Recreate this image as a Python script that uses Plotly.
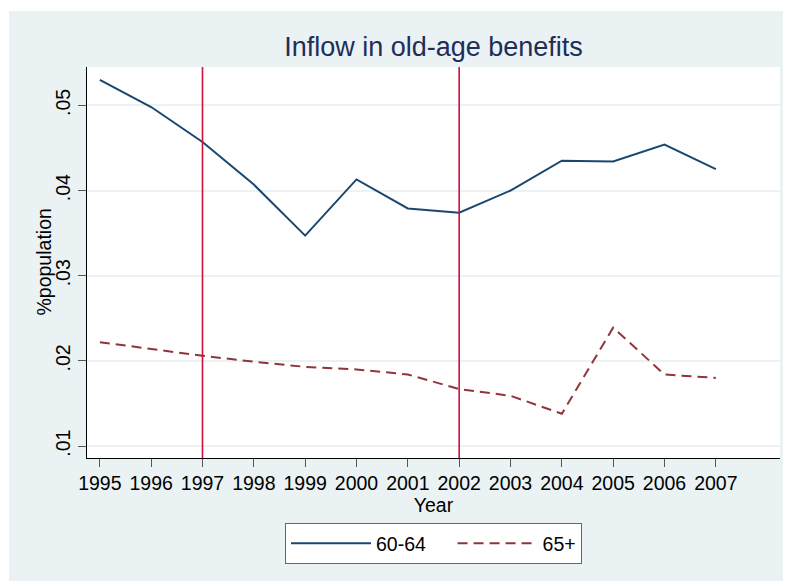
import plotly.graph_objects as go

years = [1995, 1996, 1997, 1998, 1999, 2000, 2001, 2002, 2003, 2004, 2005, 2006, 2007]
age_60_64 = [0.0530, 0.0498, 0.0457, 0.0407, 0.0347, 0.0413, 0.0379, 0.0374, 0.0400, 0.0435, 0.0434, 0.0454, 0.0425]
age_65_plus = [0.0222, 0.0214, 0.0206, 0.0199, 0.0193, 0.0190, 0.0184, 0.0167, 0.0159, 0.0138, 0.0239, 0.0184, 0.0180]
reform_years = [1997, 2002]
series_names = ["60-64", "65+"]
y_ticks = [0.01, 0.02, 0.03, 0.04, 0.05]
y_ticktext = [".01", ".02", ".03", ".04", ".05"]

FONT = "Liberation Sans, Arial, Helvetica, sans-serif"
BG = "#EAF2F3"

# page offset (body margin) of 8px
OFF = 8
W, H = 791, 581
L, T = 87 - OFF, 67 - OFF
R, B = W - (780 - OFF), H - (458 - OFF)
pw, ph = W - L - R, H - T - B

def px_x(page_x):
    return (page_x - OFF - L) / pw

def px_y(page_y):
    return (H - B - (page_y - OFF)) / ph

fig = go.Figure()
fig.add_trace(go.Scatter(x=years, y=age_60_64, mode="lines", name=series_names[0] + "\u00a0" * 4,
                         line=dict(color="#1A476F", width=2)))
fig.add_trace(go.Scatter(x=years, y=age_65_plus, mode="lines", name=series_names[1],
                         line=dict(color="#90353B", width=2, dash="10px,6px")))

shapes = [
    dict(type="rect", xref="paper", yref="paper", x0=px_x(0), x1=px_x(W + OFF), y0=px_y(11), y1=px_y(0),
         fillcolor="white", line=dict(width=0), layer="below"),
    dict(type="rect", xref="paper", yref="paper", x0=px_x(0), x1=px_x(9), y0=px_y(H + OFF), y1=px_y(0),
         fillcolor="white", line=dict(width=0), layer="below"),
]
for yr in reform_years:
    shapes.append(dict(type="line", xref="x", yref="paper", x0=yr, x1=yr, y0=0, y1=1,
                       line=dict(color="#D0103A", width=1.6), layer="above"))

fig.update_layout(
    width=W, height=H,
    margin=dict(l=L, r=R, t=T, b=B),
    paper_bgcolor=BG, plot_bgcolor="white",
    shapes=shapes,
    title=dict(text="Inflow in old-age benefits", x=0.5, xref="paper", xanchor="center",
               y=1 - (47 - OFF) / H, yref="container", yanchor="middle",
               font=dict(family=FONT, size=27, color="#1E2D5A")),
    font=dict(family=FONT, color="black"),
    xaxis=dict(range=[1994.75, 2008.25], tickvals=years, ticktext=[str(y) for y in years],
               showgrid=False, zeroline=False, showline=True, linecolor="black", linewidth=1,
               ticks="outside", ticklen=8, tickcolor="#555555", tickwidth=1,
               tickfont=dict(size=19.5, family=FONT),
               title=dict(text="Year", font=dict(size=19.5, family=FONT), standoff=0)),
    yaxis=dict(range=[0.0086, 0.0545], tickvals=y_ticks, ticktext=y_ticktext,
               showgrid=True, gridcolor=BG, gridwidth=2, zeroline=False,
               showline=True, linecolor="black", linewidth=1,
               ticks="outside", ticklen=8, tickcolor="#555555", tickwidth=1,
               tickangle=-90, tickfont=dict(size=19.5, family=FONT)),
    annotations=[dict(text="%population", xref="paper", yref="paper", x=px_x(43), y=0.5,
                      xanchor="center", yanchor="middle", textangle=-90, showarrow=False,
                      font=dict(size=19.5, family=FONT, color="black"))],
    legend=dict(orientation="h", x=0.5, xanchor="center", y=px_y(523), yanchor="top",
                bgcolor="white", bordercolor="#666666", borderwidth=1,
                font=dict(size=19.5, family=FONT), itemwidth=80, traceorder="normal"),
)

fig.write_html("out.html")
